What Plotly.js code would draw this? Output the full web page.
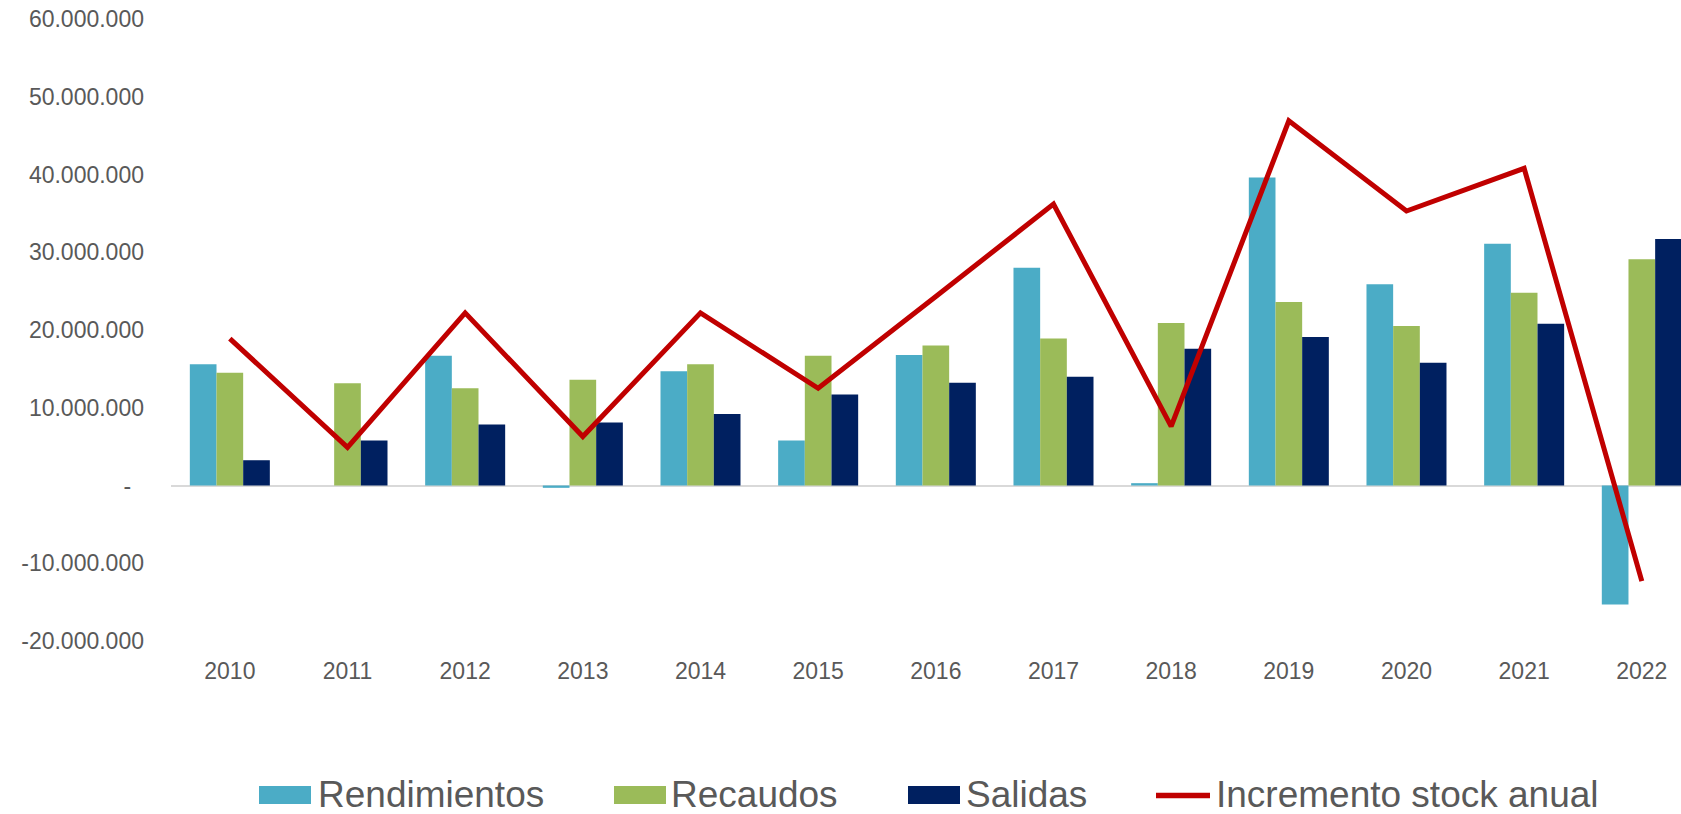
<!DOCTYPE html>
<html>
<head>
<meta charset="utf-8">
<script src="https://cdn.plot.ly/plotly-3.0.1.min.js"></script>
<style>
html,body{margin:0;padding:0;background:#fff;overflow:hidden;}
#chart{width:1681px;height:814px;}
</style>
</head>
<body>
<div id="chart"></div>
<script>
const years = ['2010','2011','2012','2013','2014','2015','2016','2017','2018','2019','2020','2021','2022'];
const rendimientos = [15600000, 0, 16700000, -300000, 14700000, 5800000, 16800000, 28000000, 300000, 39600000, 25900000, 31100000, -15300000];
const recaudos = [14500000, 13150000, 12500000, 13600000, 15600000, 16700000, 18000000, 18900000, 20900000, 23600000, 20500000, 24800000, 29100000];
const salidas = [3250000, 5800000, 7850000, 8100000, 9200000, 11700000, 13200000, 14000000, 17600000, 19100000, 15800000, 20800000, 31700000];
const incremento = [18900000, 4900000, 22200000, 6300000, 22200000, 12500000, 24300000, 36200000, 7600000, 46900000, 35300000, 40800000, -12300000];
const yTickVals = [-20000000,-10000000,0,10000000,20000000,30000000,40000000,50000000,60000000];
const yTickText = ['-20.000.000','-10.000.000','-\u00a0\u00a0','10.000.000','20.000.000','30.000.000','40.000.000','50.000.000','60.000.000'];
const seriesNames = ['Rendimientos','Recaudos','Salidas','Incremento stock anual'];
const colors = ['#4BACC6','#9BBB59','#002060','#C00000'];

const traces = [
  {type:'bar', name:seriesNames[0], x:years, y:rendimientos, marker:{color:colors[0]}, showlegend:false},
  {type:'bar', name:seriesNames[1], x:years, y:recaudos, marker:{color:colors[1]}, showlegend:false},
  {type:'bar', name:seriesNames[2], x:years, y:salidas, marker:{color:colors[2]}, showlegend:false},
  {type:'scatter', mode:'lines', name:seriesNames[3], x:years, y:incremento, line:{color:colors[3], width:5}, showlegend:false, cliponaxis:false}
];

// custom legend (pixel layout converted to paper coords)
const L = 171, W = 1510, T = 19, H = 622;
const px = v => (v - L) / W;
const py = v => (T + H - v) / H;
const legendItems = [
  {sym:'rect', x0:259, x1:311, tx:316, color:colors[0], text:seriesNames[0]},
  {sym:'rect', x0:614, x1:666, tx:669, color:colors[1], text:seriesNames[1]},
  {sym:'rect', x0:908, x1:960, tx:964, color:colors[2], text:seriesNames[2]},
  {sym:'line', x0:1156, x1:1210, tx:1214, color:colors[3], text:seriesNames[3]}
];
const shapes = [];
const annotations = [];
legendItems.forEach(it => {
  if (it.sym === 'rect') {
    shapes.push({type:'rect', xref:'paper', yref:'paper', x0:px(it.x0), x1:px(it.x1), y0:py(804), y1:py(786), fillcolor:it.color, line:{width:0}});
  } else {
    shapes.push({type:'line', xref:'paper', yref:'paper', x0:px(it.x0), x1:px(it.x1), y0:py(795.5), y1:py(795.5), line:{color:it.color, width:5.5, cap:'round'}});
  }
  annotations.push({xref:'paper', yref:'paper', x:px(it.tx), y:py(794), xanchor:'left', yanchor:'middle', text:it.text, showarrow:false, font:{family:'Liberation Sans, Arial, sans-serif', size:37, color:'#595959'}});
});

const layout = {
  width:1681, height:814,
  margin:{l:L, r:0, t:T, b:814-T-H, pad:0},
  paper_bgcolor:'#fff', plot_bgcolor:'#fff',
  barmode:'group', bargap:0.32, bargroupgap:0,
  font:{family:'Liberation Sans, Arial, sans-serif', color:'#595959'},
  xaxis:{type:'category', range:[-0.5, 12.333], showgrid:false, showline:false, zeroline:false, ticks:'', tickfont:{size:23, color:'#595959'}, ticklabelstandoff:14, fixedrange:true},
  yaxis:{range:[-20000000, 60000000], tickvals:yTickVals, ticktext:yTickText, showgrid:false, showline:false, zeroline:true, zerolinecolor:'#d9d9d9', zerolinewidth:2, ticks:'', tickfont:{size:23, color:'#595959'}, ticklabelstandoff:26, fixedrange:true},
  shapes:shapes,
  annotations:annotations,
  showlegend:false
};
Plotly.newPlot('chart', traces, layout, {displayModeBar:false, staticPlot:true});
</script>
</body>
</html>
